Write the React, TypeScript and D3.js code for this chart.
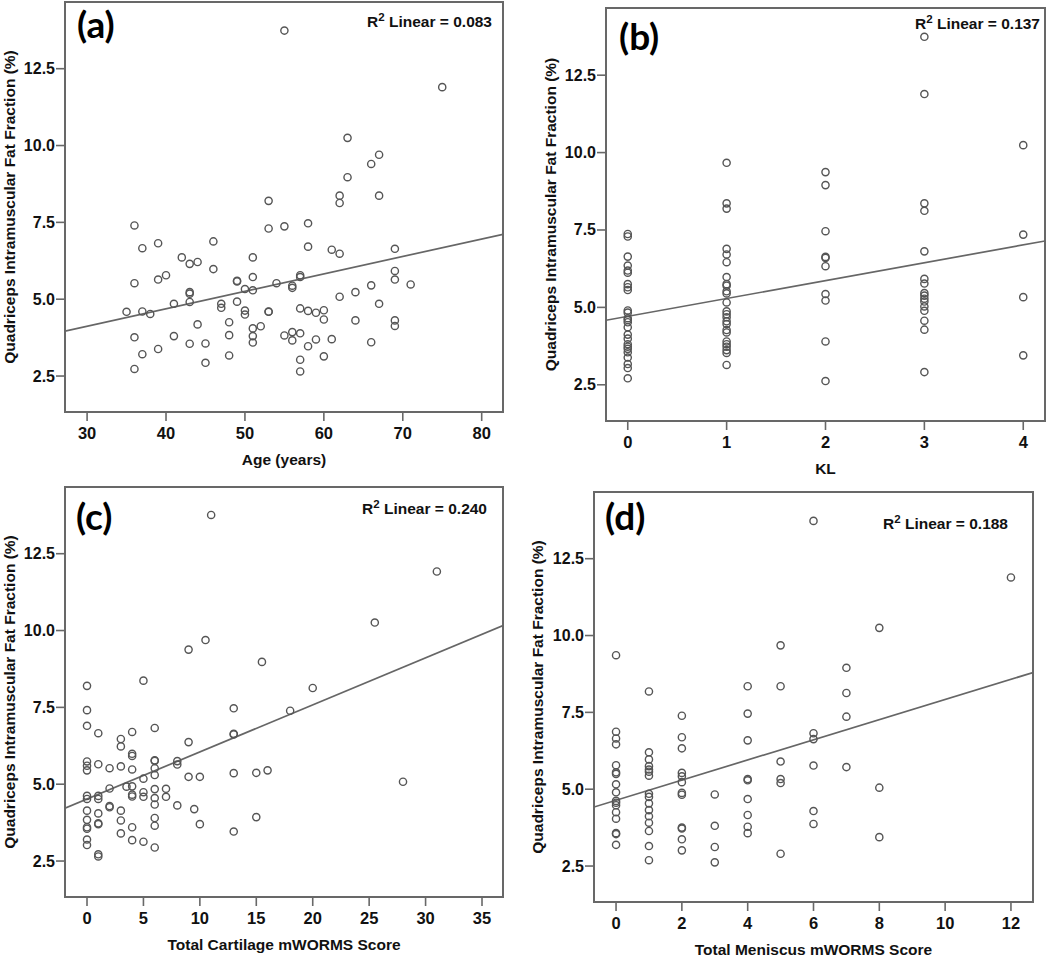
import React from "react";
import * as d3 from "d3";

// ---------- data ----------
const agePoints: [number, number][] = [
  [55, 13.74], [75, 11.9], [63, 10.25], [67, 9.7], [66, 9.4], [63, 8.97], [62, 8.37], [62, 8.13],
  [67, 8.37], [53, 8.2], [53, 7.3], [55, 7.37], [58, 7.47], [36, 7.4], [37, 6.66], [39, 6.82],
  [46, 6.88], [58, 6.71], [61, 6.61], [62, 6.48], [69, 6.64], [42, 6.36], [43, 6.15], [44, 6.21],
  [51, 6.36], [46, 5.98], [36, 5.52], [39, 5.64], [40, 5.78], [49, 5.58], [49, 5.6], [51, 5.72],
  [54, 5.52], [56, 5.44], [56, 5.37], [57, 5.78], [57, 5.72], [50, 5.33], [51, 5.29], [66, 5.45],
  [69, 5.92], [69, 5.64], [71, 5.48], [43, 5.23], [43, 5.18], [43, 4.91], [41, 4.85], [47, 4.85],
  [47, 4.72], [49, 4.92], [62, 5.08], [64, 5.23], [67, 4.85], [35, 4.59], [37, 4.6], [38, 4.52],
  [50, 4.63], [50, 4.5], [53, 4.59], [53, 4.6], [57, 4.7], [58, 4.62], [59, 4.56], [60, 4.64],
  [60, 4.34], [64, 4.31], [69, 4.31], [69, 4.13], [44, 4.18], [48, 4.25], [51, 4.05], [52, 4.12],
  [36, 3.76], [41, 3.8], [48, 3.83], [51, 3.8], [51, 3.59], [43, 3.55], [45, 3.56], [55, 3.82],
  [56, 3.93], [56, 3.66], [57, 3.89], [59, 3.69], [61, 3.7], [66, 3.6], [39, 3.38], [37, 3.21],
  [48, 3.17], [58, 3.47], [60, 3.14], [45, 2.93], [57, 3.03], [36, 2.73], [57, 2.65],
];

const klPoints: [number, number][] = [
  [3, 13.74], [3, 11.89], [4, 10.24], [1, 9.67], [2, 9.37], [2, 8.95], [1, 8.36], [1, 8.19],
  [3, 8.36], [3, 8.12], [2, 7.46], [0, 7.37], [0, 7.29], [4, 7.35],
  [0, 6.64], [0, 6.35], [0, 6.19], [0, 6.12], [0, 5.75], [0, 5.65], [0, 5.56], [0, 4.9], [0, 4.83],
  [0, 4.65], [0, 4.59], [0, 4.52], [0, 4.36], [0, 4.12], [0, 3.99], [0, 3.81], [0, 3.73], [0, 3.66],
  [0, 3.55], [0, 3.38], [0, 3.17], [0, 3.04], [0, 2.71],
  [1, 6.89], [1, 6.71], [1, 6.46], [1, 5.98], [1, 5.75], [1, 5.7], [1, 5.52], [1, 5.45], [1, 5.16],
  [1, 4.87], [1, 4.78], [1, 4.68], [1, 4.55], [1, 4.46], [1, 4.27], [1, 4.19], [1, 3.9], [1, 3.81],
  [1, 3.73], [1, 3.62], [1, 3.53], [1, 3.14],
  [2, 6.63], [2, 6.6], [2, 6.33], [2, 5.43], [2, 5.22], [2, 3.9], [2, 2.62],
  [3, 6.81], [3, 5.92], [3, 5.77], [3, 5.46], [3, 5.38], [3, 5.28], [3, 5.19], [3, 5.03], [3, 4.89],
  [3, 4.57], [3, 4.28], [3, 2.91],
  [4, 5.33], [4, 3.45],
];

const cartilagePoints: [number, number][] = [
  [11, 13.76], [31, 11.92], [25.5, 10.26], [10.5, 9.69], [9, 9.38], [15.5, 8.98], [0, 8.2], [5, 8.37],
  [20, 8.13], [13, 7.47], [18, 7.39], [0, 7.41], [0, 6.9], [1, 6.66], [4, 6.7], [6, 6.83], [3, 6.47],
  [3, 6.23], [9, 6.37], [13, 6.64], [13, 6.62], [4, 5.99], [4, 5.92], [6, 5.78], [6, 5.76], [8, 5.75],
  [8, 5.64], [0, 5.74], [0, 5.6], [0, 5.45], [1, 5.65], [2, 5.52], [3, 5.58], [4, 5.48], [6, 5.52],
  [6, 5.3], [5, 5.18], [9, 5.24], [10, 5.24], [13, 5.36], [15, 5.37], [16, 5.45], [28, 5.08],
  [2, 4.86], [3.5, 4.92], [4, 4.93], [5, 4.74], [6, 4.84], [7, 4.85], [0, 4.62], [0, 4.52],
  [1, 4.62], [1, 4.52], [4, 4.66], [4, 4.6], [5, 4.59], [6, 4.55], [7, 4.59], [2, 4.29], [2, 4.25],
  [0, 4.14], [1, 4.05], [3, 4.14], [6, 4.34], [8, 4.31], [9.5, 4.19], [0, 3.84], [0, 3.6], [0, 3.55],
  [1, 3.73], [1, 3.7], [3, 3.82], [4, 3.6], [6, 3.9], [6, 3.65], [10, 3.7], [15, 3.93], [13, 3.46],
  [3, 3.4], [4, 3.18], [5, 3.13], [0, 3.2], [0, 3.02], [6, 2.94], [1, 2.72], [1, 2.65],
];

const meniscusPoints: [number, number][] = [
  [6, 13.73], [12, 11.89], [8, 10.25], [5, 9.68], [0, 9.36], [7, 8.95], [1, 8.18], [4, 8.35],
  [5, 8.35], [7, 8.13], [2, 7.39], [4, 7.46], [7, 7.36],
  [0, 6.87], [0, 6.65], [0, 6.46], [0, 5.78], [0, 5.55], [0, 5.5], [0, 5.16], [0, 4.9], [0, 4.62],
  [0, 4.56], [0, 4.48], [0, 4.25], [0, 4.04], [0, 3.57], [0, 3.54], [0, 3.19],
  [1, 6.2], [1, 5.97], [1, 5.75], [1, 5.64], [1, 5.57], [1, 5.44], [1, 4.85], [1, 4.75], [1, 4.54],
  [1, 4.32], [1, 4.12], [1, 3.91], [1, 3.64], [1, 3.15], [1, 2.69],
  [2, 6.69], [2, 6.33], [2, 5.53], [2, 5.42], [2, 5.23], [2, 4.88], [2, 4.82], [2, 3.75], [2, 3.72],
  [2, 3.37], [2, 3.01],
  [3, 4.83], [3, 3.81], [3, 3.12], [3, 2.62],
  [4, 6.59], [4, 5.33], [4, 5.29], [4, 4.68], [4, 4.16], [4, 3.78], [4, 3.57],
  [5, 5.9], [5, 5.33], [5, 5.2], [5, 2.9],
  [6, 6.82], [6, 6.63], [6, 5.77], [6, 4.29], [6, 3.87],
  [7, 5.72],
  [8, 5.05], [8, 3.44],
];

// fitted line: [intercept, slope]
const fitAge: [number, number] = [2.415, 0.0568];
const fitKL: [number, number] = [4.71, 0.577];
const fitCartilage: [number, number] = [4.52, 0.153];
const fitMeniscus: [number, number] = [4.64, 0.328];

const r2Values = ["0.083", "0.137", "0.240", "0.188"];
const panelLetters = ["(a)", "(b)", "(c)", "(d)"];
const xTitles = ["Age (years)", "KL", "Total Cartilage mWORMS Score", "Total Meniscus mWORMS Score"];
const yTitle = "Quadriceps Intramuscular Fat Fraction (%)";

const ageTicks = [30, 40, 50, 60, 70, 80];
const klTicks = [0, 1, 2, 3, 4];
const cartilageTicks = [0, 5, 10, 15, 20, 25, 30, 35];
const meniscusTicks = [0, 2, 4, 6, 8, 10, 12];
const yTicks = [2.5, 5.0, 7.5, 10.0, 12.5];

const yDomain: [number, number] = [1.33, 14.67];

// ---------- layout ----------
type Panel = {
  points: [number, number][];
  fit: [number, number];
  xDomain: [number, number];
  xTicks: number[];
  box: { l: number; t: number; r: number; b: number };
  yTitleX: number;
  r2: { x: number; y: number };
  letter: { x: number; y: number };
};

const panels: Panel[] = [
  {
    points: agePoints, fit: fitAge, xDomain: [27.2, 82.7], xTicks: ageTicks,
    box: { l: 65, t: 2, r: 503, b: 412 }, yTitleX: 9,
    r2: { x: 492, y: 27 }, letter: { x: 77, y: 38 },
  },
  {
    points: klPoints, fit: fitKL, xDomain: [-0.22, 4.22], xTicks: klTicks,
    box: { l: 606, t: 8, r: 1045, b: 421 }, yTitleX: 550,
    r2: { x: 1040, y: 29 }, letter: { x: 619, y: 50 },
  },
  {
    points: cartilagePoints, fit: fitCartilage, xDomain: [-1.95, 36.86], xTicks: cartilageTicks,
    box: { l: 65, t: 487, r: 503, b: 897 }, yTitleX: 9,
    r2: { x: 487, y: 514 }, letter: { x: 76, y: 530 },
  },
  {
    points: meniscusPoints, fit: fitMeniscus, xDomain: [-0.67, 12.67], xTicks: meniscusTicks,
    box: { l: 594, t: 492, r: 1033, b: 902 }, yTitleX: 537,
    r2: { x: 1008, y: 529 }, letter: { x: 605, y: 530 },
  },
];

const FRAME = "#686868";
const MARK = "#555";
const TEXT = "#111";
const SANS = "'Liberation Sans', Arial, sans-serif";

function ScatterPanel({ p, i }: { p: Panel; i: number }) {
  const x = d3.scaleLinear().domain(p.xDomain).range([p.box.l, p.box.r]);
  const y = d3.scaleLinear().domain(yDomain).range([p.box.b, p.box.t]);
  const fmtY = d3.format(".1f");
  const line = d3
    .line<number>()
    .x((v) => x(v))
    .y((v) => y(p.fit[0] + p.fit[1] * v));
  const cx = (p.box.l + p.box.r) / 2;
  const cy = (p.box.t + p.box.b) / 2;
  return (
    <g>
      <defs>
        <clipPath id={`clip${i}`}>
          <rect x={p.box.l} y={p.box.t} width={p.box.r - p.box.l} height={p.box.b - p.box.t} />
        </clipPath>
      </defs>
      <rect
        x={p.box.l}
        y={p.box.t}
        width={p.box.r - p.box.l}
        height={p.box.b - p.box.t}
        fill="white"
        stroke={FRAME}
        strokeWidth={2}
      />
      {/* y ticks */}
      {yTicks.map((t) => (
        <g key={`y${t}`}>
          <line x1={p.box.l - 9} x2={p.box.l} y1={y(t)} y2={y(t)} stroke={FRAME} strokeWidth={1.6} />
          <text
            x={p.box.l - 10}
            y={y(t)}
            textAnchor="end"
            dominantBaseline="central"
            fontFamily={SANS}
            fontWeight="bold"
            fontSize={16}
            fill={TEXT}
          >
            {fmtY(t)}
          </text>
        </g>
      ))}
      {/* x ticks */}
      {p.xTicks.map((t) => (
        <g key={`x${t}`}>
          <line x1={x(t)} x2={x(t)} y1={p.box.b} y2={p.box.b + 9} stroke={FRAME} strokeWidth={1.6} />
          <text
            x={x(t)}
            y={p.box.b + 21}
            textAnchor="middle"
            dominantBaseline="central"
            fontFamily={SANS}
            fontWeight="bold"
            fontSize={16.5}
            fill={TEXT}
          >
            {t}
          </text>
        </g>
      ))}
      {/* fit line */}
      <path
        d={line(p.xDomain) || ""}
        fill="none"
        stroke="#666"
        strokeWidth={1.7}
        clipPath={`url(#clip${i})`}
      />
      {/* points */}
      {p.points.map((d, k) => (
        <circle key={k} cx={x(d[0])} cy={y(d[1])} r={3.6} fill="none" stroke={MARK} strokeWidth={1.4} />
      ))}
      {/* titles */}
      <text
        x={cx}
        y={p.box.b + 47}
        textAnchor="middle"
        dominantBaseline="central"
        fontFamily={SANS}
        fontWeight="bold"
        fontSize={15.5}
        fill={TEXT}
      >
        {xTitles[i]}
      </text>
      <text
        transform={`translate(${p.yTitleX},${cy}) rotate(-90)`}
        textAnchor="middle"
        dominantBaseline="central"
        fontFamily={SANS}
        fontWeight="bold"
        fontSize={15.5}
        fill={TEXT}
      >
        {yTitle}
      </text>
      <text
        x={p.r2.x}
        y={p.r2.y}
        textAnchor="end"
        fontFamily={SANS}
        fontWeight="bold"
        fontSize={15.5}
        fill={TEXT}
      >
        R<tspan dy={-6} fontSize={11.5}>2</tspan>
        <tspan dy={6}> Linear = {r2Values[i]}</tspan>
      </text>
      <text
        x={p.letter.x}
        y={p.letter.y}
        fontFamily="Lato, 'Open Sans', sans-serif"
        fontWeight="bold"
        fontSize={37}
        fill="#000"
      >
        {panelLetters[i]}
      </text>
    </g>
  );
}

export default function App() {
  return (
    <svg
      width={1050}
      height={956}
      style={{ position: "absolute", left: 0, top: 0, background: "white" }}
    >
      <rect width={1050} height={956} fill="white" />
      {panels.map((p, i) => (
        <ScatterPanel key={i} p={p} i={i} />
      ))}
    </svg>
  );
}
